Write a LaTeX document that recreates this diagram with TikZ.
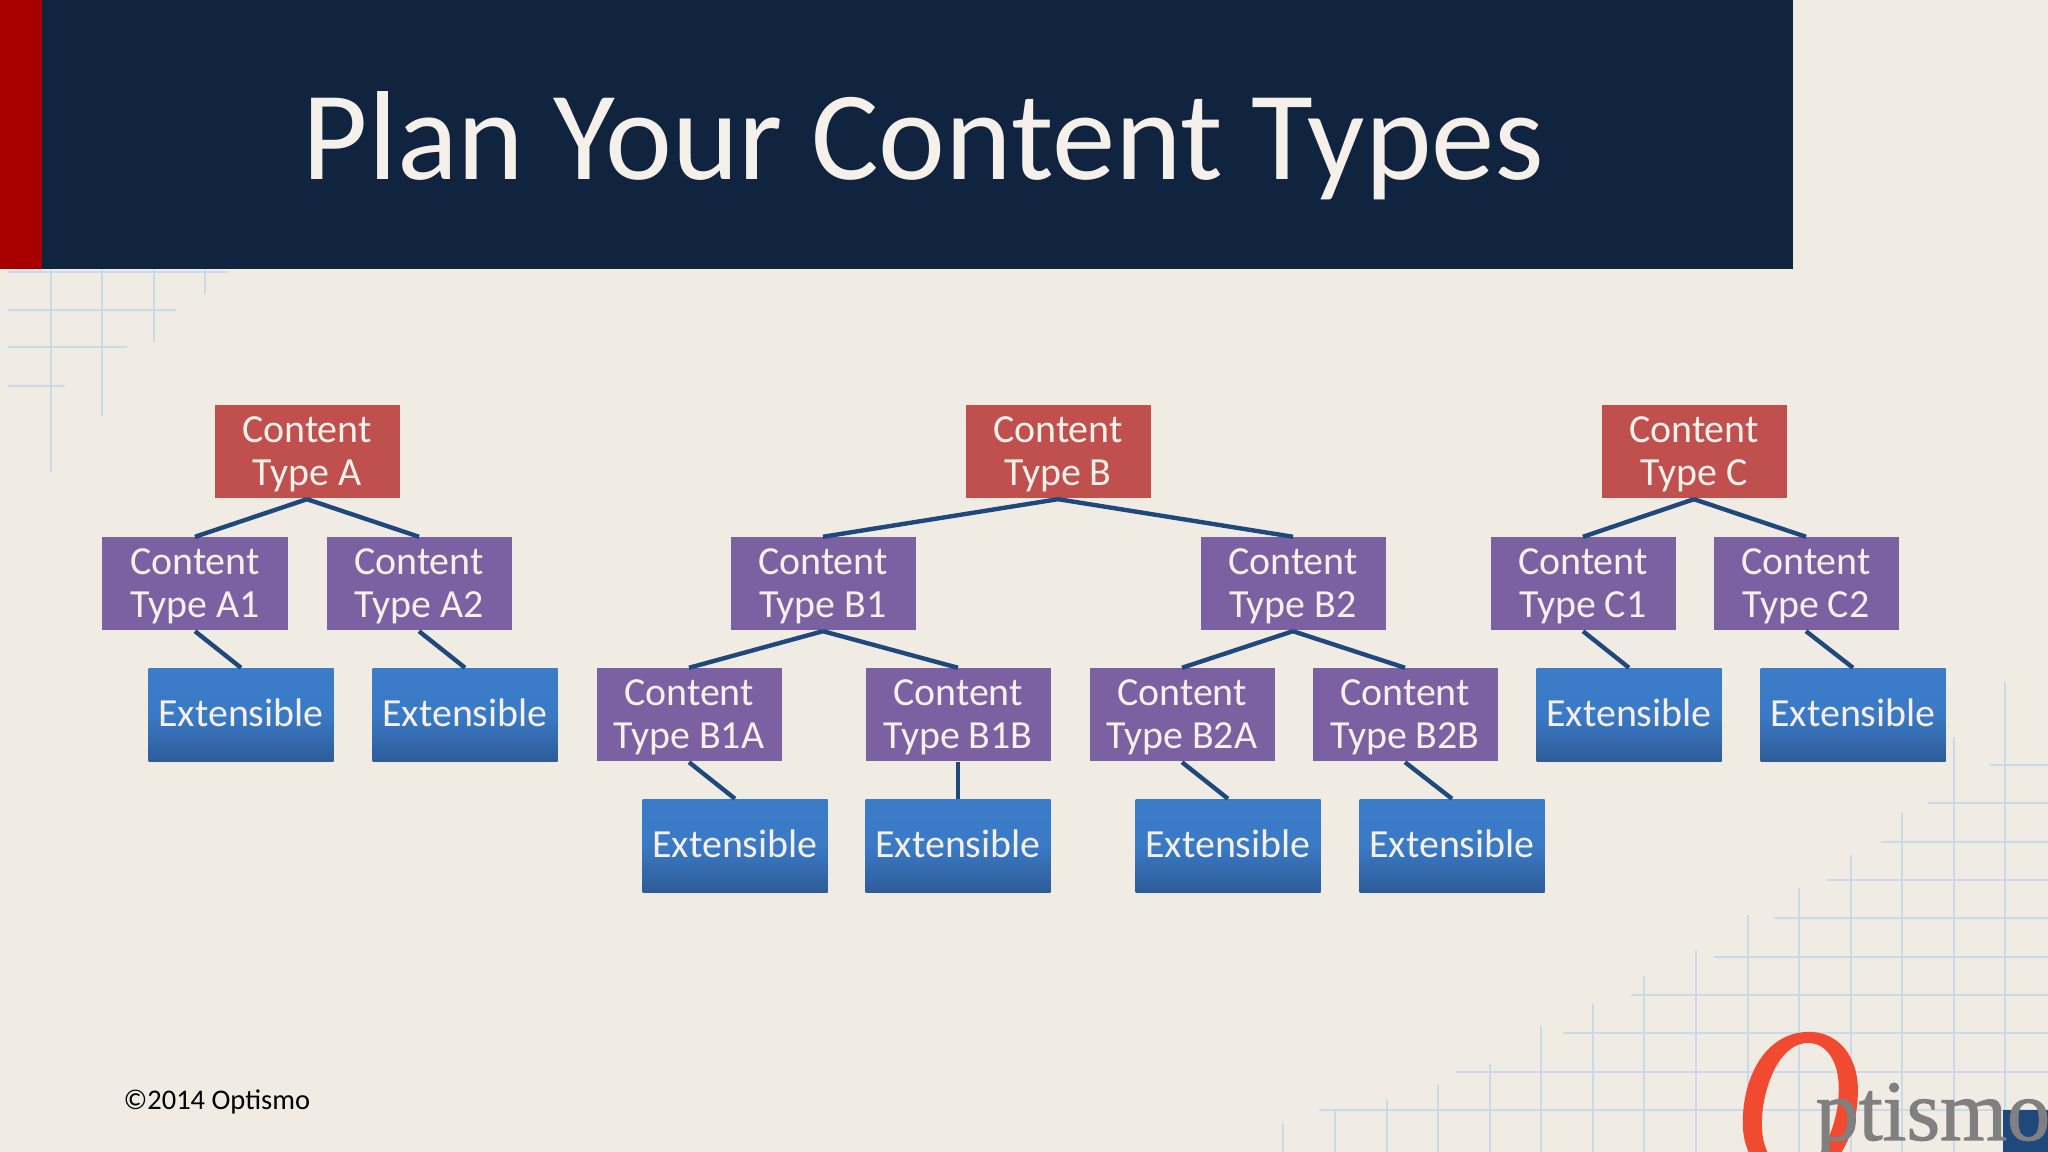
\documentclass[tikz,border=0pt]{standalone}
\usepackage{fontspec}
\usepackage{tkz-euclide}
\setmainfont{Carlito}
\newfontfamily\logofont[RawFeature={embolden=1.2}]{Liberation Serif}
\definecolor{paper}{HTML}{F1ECE3}
\definecolor{navy}{HTML}{10233F}
\definecolor{stripe}{HTML}{A80000}
\definecolor{redfill}{HTML}{C0504D}
\definecolor{purplefill}{HTML}{7B60A2}
\definecolor{exttop}{HTML}{3B7CC9}
\definecolor{extbot}{HTML}{2E5C98}
\definecolor{linkblue}{HTML}{1F497D}
\definecolor{gridblue}{HTML}{CBDAEB}
\definecolor{boxtext}{HTML}{F5F0EA}
\definecolor{logored}{HTML}{F04A30}
\newcommand{\typelabel}[1]{\rule{0pt}{8.6pt}Content\\Type #1}
\tikzset{
  basebox/.style={minimum width=1.85cm,minimum height=.93cm,inner sep=0pt,align=center,
    text=boxtext,font=\fontsize{11.35}{12.2}\selectfont},
  redbox/.style={basebox,fill=redfill},
  purplebox/.style={basebox,fill=purplefill},
  extbox/.style={basebox,top color=exttop,bottom color=extbot,middle color=exttop!92!extbot},
  link/.style={draw=linkblue,line width=1.25pt},
  gridline/.style={draw=gridblue,line width=.7pt}
}
\begin{document}
\begin{tikzpicture}
  \clip (0,0) rectangle (20.48,11.52);
  \fill[paper] (0,0) rectangle (20.48,11.52);
  % grid top left
  \foreach \yy/\xx in {8.80/2.28,8.42/1.76,8.05/1.27,7.66/.65}
    \draw[gridline] (.08,\yy) -- (\xx,\yy);
  \foreach \xx/\yy in {.51/6.80,1.02/7.36,1.54/8.10,2.05/8.58}
    \draw[gridline] (\xx,8.83) -- (\xx,\yy);
  % grid bottom right
  \foreach \yy/\xx in {3.87/19.89,3.49/19.28,3.10/18.81,2.72/18.27,2.34/17.74,1.95/17.14,1.57/16.31,1.19/15.63,.80/14.56,.42/13.19}
    \draw[gridline] (\xx,\yy) -- (20.48,\yy);
  \foreach \xx/\yy in {12.83/.29,13.35/.42,13.87/.52,14.38/.67,14.90/.88,15.41/1.26,15.93/1.48,16.44/1.76,16.96/2.02,17.48/2.37,17.99/2.64,18.51/2.97,19.02/3.39,19.54/4.15,20.05/4.70}
    \draw[gridline] (\xx,0) -- (\xx,\yy);
  % logo
  \fill[linkblue] (20.03,0) rectangle (20.48,.42);
  \node[text=logored,inner sep=0pt,anchor=base,xscale=.8] (logoO) at (17.98,-.255) {\logofont\itshape\fontsize{62}{62}\selectfont O};
  \node[text=gray,inner sep=0pt,anchor=base west] (logotext) at (18.15,.12) {\logofont\fontsize{24.5}{25}\selectfont ptismo};
  % title band
  \fill[navy] (0,8.83) rectangle (17.93,11.52);
  \fill[stripe] (0,8.83) rectangle (.42,11.52);
  \node[text=boxtext,inner sep=0pt,anchor=base west,font=\fontsize{36.05}{40}\selectfont] (title) at (3.02,9.72) {Plan Your Content Types};
  \node[text=black,inner sep=0pt,anchor=base west,font=\fontsize{8.1}{10}\selectfont] (copyright) at (1.23,.42) {©2014 Optismo};
  \tkzDefPoints{3.07/7.00/pA,10.58/7.00/pB,16.94/7.00/pC,
    1.95/5.68/pAa,4.19/5.68/pAb,8.23/5.68/pBa,12.93/5.68/pBb,15.83/5.68/pCa,18.06/5.68/pCb,
    2.41/4.37/pEAa,4.65/4.37/pEAb,6.89/4.37/pBaa,9.58/4.37/pBab,11.82/4.37/pBba,14.05/4.37/pBbb,16.29/4.37/pECa,18.53/4.37/pECb,
    7.35/3.06/pEBaa,9.58/3.06/pEBab,12.28/3.06/pEBba,14.52/3.06/pEBbb}
  \node[redbox] (A) at (pA) {\typelabel{A}};
  \node[redbox] (B) at (pB) {\typelabel{B}};
  \node[redbox] (C) at (pC) {\typelabel{C}};
  \node[purplebox] (Aa) at (pAa) {\typelabel{A1}};
  \node[purplebox] (Ab) at (pAb) {\typelabel{A2}};
  \node[purplebox] (Ba) at (pBa) {\typelabel{B1}};
  \node[purplebox] (Bb) at (pBb) {\typelabel{B2}};
  \node[purplebox] (Ca) at (pCa) {\typelabel{C1}};
  \node[purplebox] (Cb) at (pCb) {\typelabel{C2}};
  \node[purplebox] (Baa) at (pBaa) {\typelabel{B1A}};
  \node[purplebox] (Bab) at (pBab) {\typelabel{B1B}};
  \node[purplebox] (Bba) at (pBba) {\typelabel{B2A}};
  \node[purplebox] (Bbb) at (pBbb) {\typelabel{B2B}};
  \foreach \nn in {EAa,EAb,ECa,ECb,EBaa,EBab,EBba,EBbb}
    \node[extbox] (\nn) at (p\nn) {\rule[-1.2pt]{0pt}{1pt}Extensible};
  \foreach \uu/\vv in {A/Aa,A/Ab,B/Ba,B/Bb,C/Ca,C/Cb,Aa/EAa,Ab/EAb,Ca/ECa,Cb/ECb,
    Ba/Baa,Ba/Bab,Bb/Bba,Bb/Bbb,Baa/EBaa,Bab/EBab,Bba/EBba,Bbb/EBbb}
    \draw[link] (\uu.south) -- (\vv.north);
\end{tikzpicture}
\end{document}
